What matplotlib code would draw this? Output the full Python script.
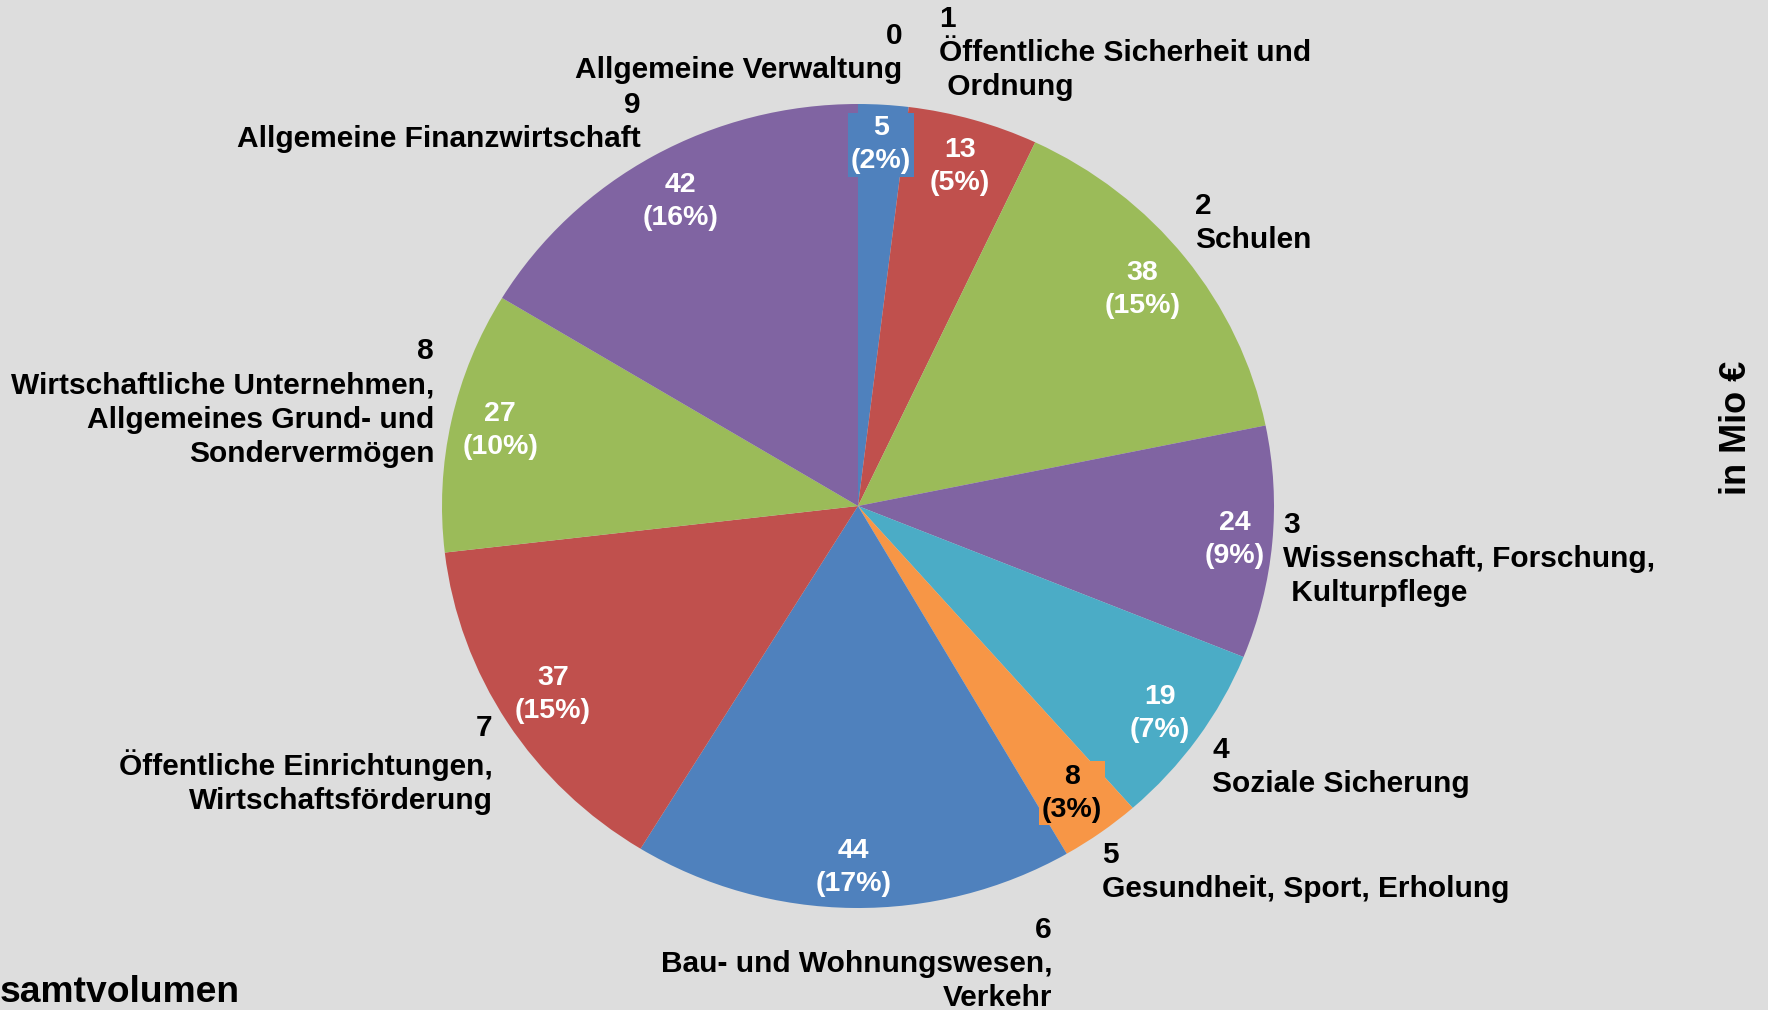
import matplotlib
matplotlib.use('Agg')
from matplotlib import pyplot as plt
import numpy as np

plt.rcParams['font.family'] = ['Liberation Sans', 'DejaVu Sans']
plt.rcParams['font.weight'] = 'bold'

# data
values = [5, 13, 38, 24, 19, 8, 44, 37, 27, 42]
pct_text = ['2%', '5%', '15%', '9%', '7%', '3%', '17%', '15%', '10%', '16%']
labels = ['0\nAllgemeine Verwaltung',
          '1\nÖffentliche Sicherheit und\n Ordnung',
          '2\nSchulen',
          '3\nWissenschaft, Forschung,\n Kulturpflege',
          '4\nSoziale Sicherung',
          '5\nGesundheit, Sport, Erholung',
          '6\nBau- und Wohnungswesen,\nVerkehr',
          '7\nÖffentliche Einrichtungen,\nWirtschaftsförderung',
          '8\nWirtschaftliche Unternehmen,\nAllgemeines Grund- und\nSondervermögen',
          '9\nAllgemeine Finanzwirtschaft']
colors = ['#4F81BD', '#C0504D', '#9BBB59', '#8064A2', '#4BACC6',
          '#F79646', '#4F81BD', '#C0504D', '#9BBB59', '#8064A2']

W, H = 1768, 1010
bg = '#DDDDDD'
fig = plt.figure(figsize=(W/100, H/100), dpi=100, facecolor=bg)

# page axes in pixel units (y up)
ax = fig.add_axes([0, 0, 1, 1])
ax.set_facecolor(bg)
ax.set_xlim(0, W)
ax.set_ylim(0, H)
ax.axis('off')

# pie axes: slightly wider than tall, like the original
cx, cy, rx, ry = 858, H - 506, 416, 402
pax = fig.add_axes([(cx - rx) / W, (cy - ry) / H, 2 * rx / W, 2 * ry / H])
wedges, _ = pax.pie(values, colors=colors, startangle=90, counterclock=False,
                    radius=1)
pax.set_aspect('auto')
pax.set_xlim(-1, 1)
pax.set_ylim(-1, 1)
pax.axis('off')

# value labels inside the slices
dist = [0.90, 0.88, 0.87, 0.91, 0.89, 0.88, 0.90, 0.87, 0.88, 0.87]
for i, w in enumerate(wedges):
    ang = np.deg2rad((w.theta1 + w.theta2) / 2)
    tc = 'black' if colors[i] == '#F79646' else 'white'
    box = None
    if values[i] < 10:
        box = dict(boxstyle='square,pad=0.1', fc=colors[i], ec='none')
    pax.text(dist[i] * np.cos(ang), dist[i] * np.sin(ang),
             '%d\n(%s)' % (values[i], pct_text[i]), ha='center', va='center',
             color=tc, fontsize=20.5, linespacing=1.34, bbox=box)

# category labels (x, y centre in px of the 1568 wide view, alignment)
s = 1768 / 1568
lab_pos = [(800, 47, 'right'), (833, 47, 'left'), (1060, 198, 'left'),
           (1138, 496, 'left'), (1075, 680, 'left'), (977, 773, 'left'),
           (933, 855, 'right'), (437, 678, 'right'), (385, 357, 'right'),
           (568, 108, 'right')]
for txt, (x, y, ha) in zip(labels, lab_pos):
    ax.text(x * s, H - y * s, txt, ha=ha, va='center', multialignment=ha,
            fontsize=21.5, linespacing=1.28, color='black')

ax.text(0, H - 993, 'samtvolumen', ha='left', va='center', fontsize=26.8)
ax.text(1736, H - 428, 'in Mio €', rotation=90, ha='center', va='center',
        fontsize=26)

fig.savefig('out.png', dpi=100, facecolor=bg)
